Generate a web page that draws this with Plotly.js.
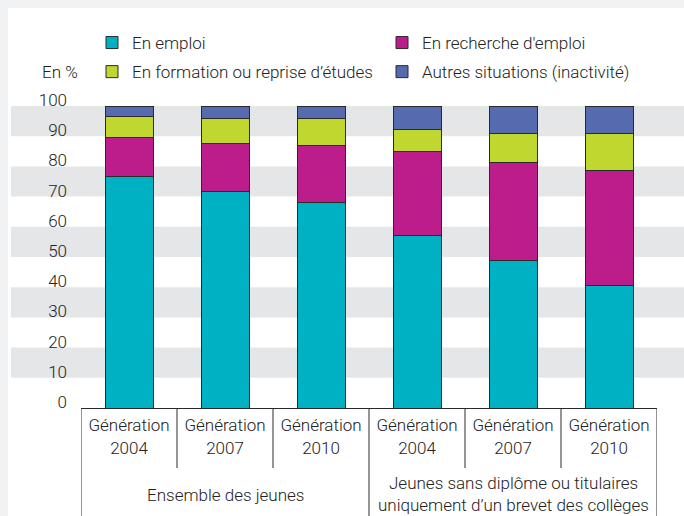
<!DOCTYPE html>
<html>
<head>
<meta charset="utf-8">
<script src="https://cdn.plot.ly/plotly-3.0.1.min.js"></script>
<style>html,body{margin:0;padding:0;background:#f1f2f4;}#chart{width:684px;height:516px;}</style>
</head>
<body>
<div id="chart"></div>
<script>
// ---- Data ----
const categoryIds = ["ens2004", "ens2007", "ens2010", "sd2004", "sd2007", "sd2010"];
const tickLabels = ["Génération<br>2004", "Génération<br>2007", "Génération<br>2010",
                    "Génération<br>2004", "Génération<br>2007", "Génération<br>2010"];
const groupLabels = ["Ensemble des jeunes", "Jeunes sans diplôme ou titulaires", "uniquement d’un brevet des collèges"];
const seriesNames = ["En emploi", "En recherche d'emploi", "En formation ou reprise d’études", "Autres situations (inactivité)"];
const enEmploi     = [76.5, 71.8, 68.2, 57.2, 48.9, 40.6];
const enRecherche  = [13.0, 15.8, 18.7, 27.6, 32.5, 38.0];
const enFormation  = [6.9, 8.2, 8.9, 7.5, 9.5, 12.3];
const autres       = [3.6, 4.2, 4.2, 7.7, 9.1, 9.1];
const yTicks = [0, 10, 20, 30, 40, 50, 60, 70, 80, 90, 100];

// ---- Style ----
const FONT = 'Roboto, "Liberation Sans Narrow", sans-serif';
const FS = 17;
const FW = 300;
const TXT = '#222222';
const colors = ["#00b0c3", "#bd1c8b", "#c0d72f", "#566ab0"];
const W = 684, H = 516, L = 81, R = 27, T = 106, B = 108;
const pw = W - L - R, ph = H - T - B;
const px = x => (x - L) / pw;            // pixel -> paper x
const py = y => (H - B - y) / ph;        // pixel -> paper y
const f = () => ({family: FONT, size: FS, color: TXT, weight: FW});

const seriesVals = [enEmploi, enRecherche, enFormation, autres];
const legendOf = ["legend", "legend2", "legend", "legend2"];
const traces = seriesVals.map((vals, i) => ({
  type: "bar",
  name: seriesNames[i],
  x: categoryIds,
  y: vals,
  width: 0.5,
  legend: legendOf[i],
  legendgroup: "g" + i,
  marker: {color: colors[i], line: {color: "#2a2a2a", width: 1}},
  hoverinfo: "skip"
}));

const shapes = [];
// white panel
shapes.push({type: "rect", xref: "paper", yref: "paper", x0: px(8), x1: px(W + 2), y0: py(8), y1: py(H + 2),
  fillcolor: "#ffffff", line: {width: 0}, layer: "below"});
// grey bands
for (let v = 90; v >= 10; v -= 20) {
  shapes.push({type: "rect", xref: "paper", yref: "y", x0: px(11), x1: px(W + 2), y0: v, y1: v + 10,
    fillcolor: "#e5e6e8", line: {width: 0}, layer: "below"});
}
// dividers under the axis
[0.5, 1.5, 3.5, 4.5].forEach(x => shapes.push({type: "line", xref: "x", yref: "paper", x0: x, x1: x,
  y0: 0, y1: py(468), line: {color: "#2a2a2a", width: 1}}));
[-0.5, 2.5, 5.5].forEach(x => shapes.push({type: "line", xref: "x", yref: "paper", x0: x, x1: x,
  y0: 0, y1: py(H + 2), line: {color: "#2a2a2a", width: 1}}));

const annotations = [
  {text: "En %", xref: "paper", yref: "paper", x: px(40), y: py(72), xanchor: "left", yanchor: "middle",
   showarrow: false, font: f()},
  {text: groupLabels[0], xref: "x", yref: "paper", x: 1, y: py(495), xanchor: "center", yanchor: "middle",
   showarrow: false, font: f()},
  {text: groupLabels[1], xref: "x", yref: "paper", x: 4, y: py(483), xanchor: "center", yanchor: "middle",
   showarrow: false, font: f()},
  {text: groupLabels[2], xref: "x", yref: "paper", x: 4, y: py(505), xanchor: "center", yanchor: "middle",
   showarrow: false, font: f()}
];

const legendBase = {orientation: "v", traceorder: "grouped", tracegroupgap: 4, bgcolor: "rgba(0,0,0,0)",
  font: f(), xanchor: "left", yanchor: "top", borderwidth: 0};

const layout = {
  width: W, height: H,
  margin: {l: L, r: R, t: T, b: B, pad: 0},
  paper_bgcolor: "#f1f2f4",
  plot_bgcolor: "rgba(0,0,0,0)",
  barmode: "stack",
  showlegend: true,
  legend: Object.assign({}, legendBase, {x: px(92), y: py(25)}),
  legend2: Object.assign({}, legendBase, {x: px(382), y: py(25)}),
  font: f(),
  xaxis: {type: "category", range: [-0.5, 5.5], tickmode: "array", tickvals: categoryIds, ticktext: tickLabels,
    tickangle: 0, showgrid: false, zeroline: false, showline: true, linecolor: "#2a2a2a", linewidth: 1, ticks: "",
    ticklabelstandoff: 2, tickfont: f(), fixedrange: true},
  yaxis: {range: [0, 100], tickmode: "array", tickvals: yTicks, showgrid: false, zeroline: false, showline: false,
    ticks: "", ticklabelstandoff: 13, ticklabelshift: -6,
    tickfont: f(), fixedrange: true},
  shapes: shapes,
  annotations: annotations
};

Plotly.newPlot("chart", traces, layout, {staticPlot: true, displayModeBar: false});
</script>
</body>
</html>
